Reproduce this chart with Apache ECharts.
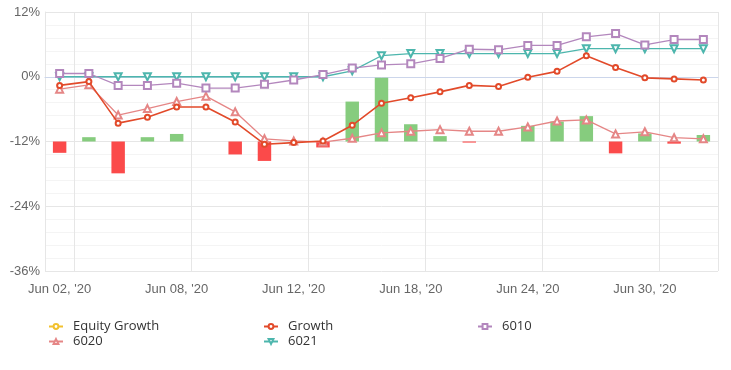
<!DOCTYPE html>
<html>
<head>
<meta charset="utf-8">
<script src="https://cdn.jsdelivr.net/npm/echarts@6/dist/echarts.min.js"></script>
<style>html,body{margin:0;padding:0;background:#fff;}#c{width:731px;height:370px;}</style>
</head>
<body>
<div id="c"></div>
<script>
const categories = ["Jun 02, '20","Jun 03, '20","Jun 04, '20","Jun 05, '20","Jun 08, '20","Jun 09, '20","Jun 10, '20","Jun 11, '20","Jun 12, '20","Jun 15, '20","Jun 16, '20","Jun 17, '20","Jun 18, '20","Jun 19, '20","Jun 22, '20","Jun 23, '20","Jun 24, '20","Jun 25, '20","Jun 26, '20","Jun 29, '20","Jun 30, '20","Jul 01, '20","Jul 02, '20"];
const equityGrowth = [];
const growth = [-1.6,-0.9,-8.6,-7.5,-5.6,-5.6,-8.4,-12.5,-12.2,-11.9,-9.0,-4.9,-3.9,-2.8,-1.6,-1.8,-0.1,1.0,3.9,1.7,-0.2,-0.4,-0.6];
const s6010 = [0.6,0.6,-1.6,-1.6,-1.2,-2.1,-2.1,-1.4,-0.6,0.4,1.6,2.2,2.4,3.4,5.1,5.0,5.8,5.8,7.4,8.0,5.9,6.9,6.9];
const s6020 = [-2.3,-1.5,-7.1,-5.9,-4.6,-3.6,-6.5,-11.5,-11.9,-12.1,-11.4,-10.4,-10.1,-9.8,-10.1,-10.1,-9.3,-8.2,-8.0,-10.6,-10.2,-11.3,-11.5];
const s6021 = [0,0,0,0,0,0,0,0,0,0,1.1,3.9,4.3,4.3,4.3,4.3,4.3,4.3,5.2,5.2,5.2,5.2,5.2];
const dailyBars = [-2.1,0.8,-5.9,0.8,1.4,0,-2.4,-3.6,0,-1.1,7.4,11.8,3.2,1.0,-0.2,0,2.9,3.7,4.7,-2.2,1.5,-0.4,1.2];
const yTicks = {min:-36, max:12, interval:12};

const chart = echarts.init(document.getElementById('c'), null, {renderer:'canvas'});
const axisFont = {fontFamily:'Liberation Sans', fontSize:13, color:'#666'};
const legendText = {fontFamily:'Open Sans', fontSize:13, color:'#333', padding:[0,0,0,5]};
function legendAt(left, names){
  return {left:left, top:320, orient:'vertical', padding:0, itemGap:2, itemWidth:14, itemHeight:6,
    data:names, textStyle:legendText, selectedMode:false};
}
function lineSeries(name, data, color, symbol, size, extra){
  return Object.assign({
    name:name, type:'line', data:data, yAxisIndex:0, symbol:symbol, symbolSize:size,
    showAllSymbol:true, z:3,
    lineStyle:{color:color, width:1.3}, itemStyle:{color:color, borderColor:color, borderWidth:1.3}
  }, extra||{});
}
chart.setOption({
  animation:false,
  grid:{left:45, right:13, top:12, bottom:99, containLabel:false},
  legend:[
    legendAt(48, ['Equity Growth','6020']),
    legendAt(263, ['Growth','6021']),
    legendAt(477, ['6010'])
  ],
  xAxis:{
    type:'category', data:categories, boundaryGap:true,
    axisLine:{show:true, lineStyle:{color:'#ccd6eb', width:1}},
    axisTick:{show:false},
    axisLabel:Object.assign({interval:3, margin:12}, axisFont),
    splitLine:{show:true, interval:function(i){return i % 4 === 1;}, lineStyle:{color:'#e6e6e6', width:1}}
  },
  yAxis:[{
    type:'value', min:yTicks.min, max:yTicks.max, interval:yTicks.interval,
    axisLine:{show:true, lineStyle:{color:'#e6e6e6'}},
    axisTick:{show:false},
    axisLabel:Object.assign({formatter:'{value}%', margin:5}, axisFont),
    splitLine:{show:true, lineStyle:{color:'#e6e6e6', width:1}},
    minorTick:{show:false, splitNumber:5},
    minorSplitLine:{show:true, lineStyle:{color:'#f4f4f4', width:1}}
  },{
    type:'value', min:-24, max:24, show:false, splitLine:{show:false}
  }],
  series:[
    {name:'Daily', type:'bar', yAxisIndex:1, data:dailyBars, barWidth:'46%', z:1,
     itemStyle:{color:function(p){return p.value >= 0 ? '#86cc7e' : '#fb4a4a';}}},
    lineSeries('Equity Growth', equityGrowth, '#f2c12e', 'emptyCircle', 5),
    lineSeries('6020', s6020, '#e58686', 'emptyTriangle', 7),
    lineSeries('6021', s6021, '#4db6ad', 'emptyTriangle', 7, {symbolRotate:180}),
    lineSeries('6010', s6010, '#b387bd', 'emptyRect', 7),
    lineSeries('Growth', growth, '#e24a2a', 'emptyCircle', 5, {z:4, lineStyle:{color:'#e24a2a', width:1.6}})
  ]
});
</script>
</body>
</html>
